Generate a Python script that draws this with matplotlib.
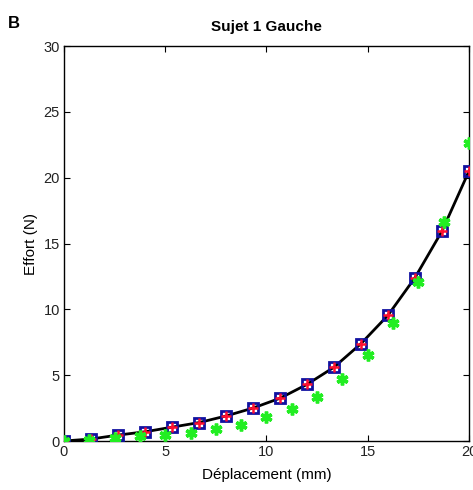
import matplotlib
matplotlib.use("Agg")
import matplotlib.pyplot as plt

plt.rcParams['font.family'] = ['Liberation Sans', 'DejaVu Sans']

# Mesures (carres bleus / croix rouges) et modele (etoiles vertes)
depl_mesure = [0, 1.33, 2.67, 4, 5.33, 6.67, 8, 9.33, 10.67, 12, 13.33, 14.67, 16, 17.33, 18.67, 20]
effort_mesure = [0, 0.15, 0.45, 0.7, 1.05, 1.4, 1.9, 2.5, 3.25, 4.3, 5.6, 7.4, 9.55, 12.4, 15.95, 20.5]

depl_modele = [0, 1.25, 2.5, 3.75, 5, 6.25, 7.5, 8.75, 10, 11.25, 12.5, 13.75, 15, 16.25, 17.5, 18.75, 20]
effort_modele = [0, 0.1, 0.2, 0.35, 0.45, 0.6, 0.9, 1.2, 1.8, 2.45, 3.35, 4.7, 6.5, 8.95, 12.1, 16.6, 22.6]

xticks = [0, 5, 10, 15, 20]
yticks = [0, 5, 10, 15, 20, 25, 30]

fig = plt.figure(figsize=(4.73, 4.90), dpi=100)
ax = fig.add_axes([0.1353, 0.1, 0.8562, 0.806])

# Courbe noire
ax.plot(depl_mesure, effort_mesure, color='black', linewidth=2, zorder=2)
# Carres bleus + croix rouges
ax.plot(depl_mesure, effort_mesure, linestyle='none', marker='s', markersize=7.5,
        markerfacecolor='none', markeredgecolor='#1010a0', markeredgewidth=2, zorder=3)
ax.plot(depl_mesure, effort_mesure, linestyle='none', marker='+', markersize=6.5,
        markeredgecolor='#ff1030', markeredgewidth=1.8, zorder=4)
# Etoiles vertes
ax.plot(depl_modele, effort_modele, linestyle='none', marker=(6, 2, 0), markersize=8.5,
        markeredgecolor='#22ee22', markeredgewidth=2.5, zorder=5)

ax.set_xlim(0, 20)
ax.set_ylim(0, 30)
ax.set_xticks(xticks)
ax.set_yticks(yticks)
ax.tick_params(direction='in', top=True, right=True, length=4, labelsize=10.5,
               labelcolor='#222222', pad=3)
for s in ax.spines.values():
    s.set_linewidth(1)

ax.set_xlabel("Déplacement (mm)", fontsize=11, labelpad=6)
ax.set_ylabel("Effort (N)", fontsize=11, labelpad=4)
ax.set_title("Sujet 1 Gauche", fontsize=11, fontweight='bold', pad=11)
fig.text(0.016, 0.943, "B", fontsize=12, fontweight='bold')

fig.savefig("out.png", dpi=100)
